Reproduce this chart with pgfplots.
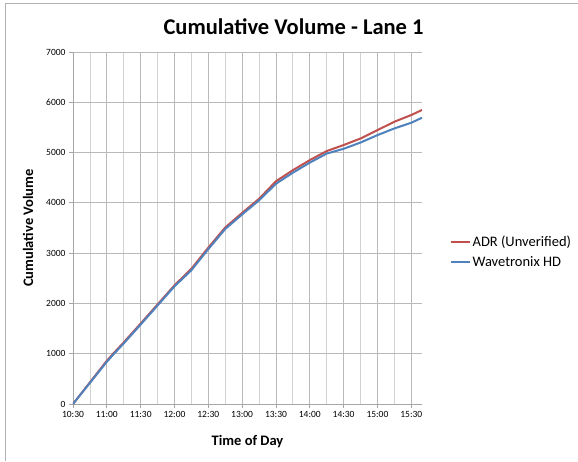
\documentclass[border=0pt]{standalone}
\usepackage{fontspec}
\setmainfont{Carlito}
\usepackage{pgfplots}
\pgfplotsset{compat=1.18}

\definecolor{adrred}{HTML}{C0504D}
\definecolor{wavblue}{HTML}{4F81BD}

% minutes after 10:30 vs cumulative count
\pgfplotstableread{
t   v
0     0
15    430
30    860
36    1010
45    1225
60    1600
75    1980
90    2360
105   2690
120   3110
135   3510
150   3800
165   4080
180   4430
195   4650
210   4850
225   5030
240   5150
255   5280
270   5447
285   5613
300   5747
309.5 5847
}\adr

\pgfplotstableread{
t   v
0     0
15    420
30    840
36    990
45    1205
60    1580
75    1960
90    2340
105   2660
120   3080
135   3480
150   3770
165   4050
180   4380
195   4600
210   4800
225   4980
240   5075
255   5200
270   5347
285   5480
300   5593
309.5 5693
}\wav

\begin{document}
\begin{tikzpicture}
\path[use as bounding box] (-73pt,-57pt) rectangle (505pt,404pt);
\draw[gray!60, line width=0.8pt] (-68pt,-57pt) -- (-68pt,401pt) -- (505pt,401pt);
\begin{axis}[
    at={(0,0)}, anchor=south west,
    scale only axis,
    width=349pt, height=352pt,
    clip mode=individual,
    xmin=0, xmax=309.5,
    ymin=0, ymax=7000,
    xtick={0,30,...,300},
    xticklabels={10:30,11:00,11:30,12:00,12:30,13:00,13:30,14:00,14:30,15:00,15:30},
    minor xtick={15,45,...,285},
    ytick={0,1000,...,7000},
    /pgf/number format/assume math mode=true,
    /pgf/number format/set thousands separator={},
    tick label style={font=\fontsize{9.5}{11}\selectfont},
    grid=both,
    major grid style={gray!55, line width=0.8pt},
    minor grid style={gray!35, line width=0.8pt},
    axis x line*=bottom, axis y line*=left,
    axis line style={gray!70, line width=0.8pt, -},
    tick style={gray!70, line width=0.8pt},
    tick align=outside,
    major tick length=4pt,
    minor tick length=0pt,
    xlabel={\textbf{Time of Day}},
    ylabel={\textbf{Cumulative Volume}},
    label style={font=\fontsize{14.5}{16}\selectfont},
    xlabel style={at={(rel axis cs:0.5,0)}, anchor=center, yshift=-38pt},
    ylabel style={at={(rel axis cs:0,0.5)}, anchor=center, rotate=0, yshift=45pt},
    legend style={at={(1.07,0.432)}, anchor=west, draw=none, fill=none,
                  font=\fontsize{14.5}{16}\selectfont, row sep=5pt,
                  nodes={inner xsep=2pt}},
    legend cell align=left,
    legend image code/.code={\draw[#1, line width=2pt] (0pt,0pt) -- (19pt,0pt);},
]
\addplot[adrred, line width=2pt] table[x=t, y=v] {\adr};
\addlegendentry{ADR (Unverified)}
\addplot[wavblue, line width=2pt] table[x=t, y=v] {\wav};
\addlegendentry{Wavetronix HD}
\node[font=\bfseries\fontsize{22.5}{26}\selectfont] at (rel axis cs:0.632,1.071) {Cumulative Volume - Lane 1};
\end{axis}
\end{tikzpicture}
\end{document}
